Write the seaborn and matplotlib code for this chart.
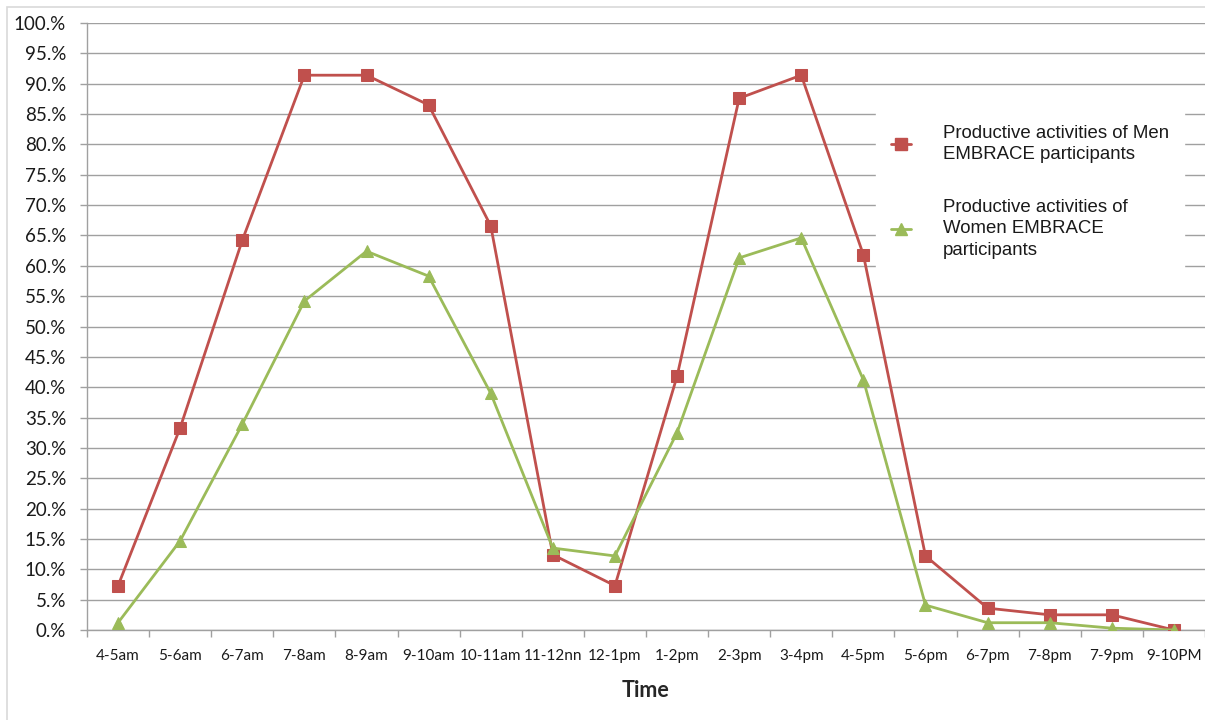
import matplotlib
matplotlib.use("Agg")
import matplotlib.pyplot as plt
from matplotlib.patches import Rectangle
from matplotlib.lines import Line2D
import seaborn as sns
import pandas as pd
import numpy as np

time_slots = ["4-5am", "5-6am", "6-7am", "7-8am", "8-9am", "9-10am", "10-11am",
              "11-12nn", "12-1pm", "1-2pm", "2-3pm", "3-4pm", "4-5pm", "5-6pm",
              "6-7pm", "7-8pm", "7-9pm", "9-10PM"]
men = [7.3, 33.3, 64.2, 91.4, 91.4, 86.5, 66.6, 12.4, 7.3, 41.8, 87.6, 91.4,
       61.8, 12.2, 3.6, 2.5, 2.5, 0.0]
women = [1.2, 14.7, 33.9, 54.2, 62.4, 58.3, 39.0, 13.5, 12.2, 32.5, 61.3, 64.6,
         41.2, 4.1, 1.2, 1.2, 0.3, 0.0]
men_label = "Productive activities of Men\nEMBRACE participants"
women_label = "Productive activities of\nWomen EMBRACE\nparticipants"
y_ticks = list(range(0, 101, 5))
y_tick_labels = ["0.%", "5.%", "10.%", "15.%", "20.%", "25.%", "30.%", "35.%", "40.%",
                 "45.%", "50.%", "55.%", "60.%", "65.%", "70.%", "75.%", "80.%",
                 "85.%", "90.%", "95.%", "100.%"]

RED = "#C0504D"
GREEN = "#9BBB59"
GRID = "#A0A0A0"

df = pd.DataFrame({
    "pos": list(range(len(time_slots))) * 2,
    "value": men + women,
    "series": [men_label] * len(men) + [women_label] * len(women),
})

sns.set_theme(style="white")
plt.rcParams["font.family"] = ["Lato", "DejaVu Sans"]

W, H = 1205, 720
fig = plt.figure(figsize=(W / 100, H / 100), dpi=100)
ax = fig.add_axes([87 / W, 90 / H, (W - 87) / W, (630 - 23) / H])

sns.lineplot(data=df[df.series == men_label], x="pos", y="value", ax=ax,
             color=RED, linewidth=2.0, marker="s", markersize=8,
             markeredgecolor=RED, legend=False, zorder=3)
sns.lineplot(data=df[df.series == women_label], x="pos", y="value", ax=ax,
             color=GREEN, linewidth=2.0, marker="^", markersize=9,
             markeredgecolor=GREEN, legend=False, zorder=3)

ax.set_xlim(-0.5, len(time_slots) - 0.5)
ax.set_ylim(0, 100)
ax.set_yticks(y_ticks)
ax.set_yticklabels(y_tick_labels, fontsize=13.5, color="#1a1a1a")
ax.set_xticks(range(len(time_slots)))
ax.set_xticklabels(time_slots, fontsize=11, color="#1a1a1a")
ax.tick_params(axis="x", length=0, pad=14)
ax.tick_params(axis="y", length=5, color=GRID, width=1, pad=10, direction="out", left=True)
ax.set_xticks(np.arange(-0.5, len(time_slots), 1), minor=True)
ax.tick_params(axis="x", which="minor", length=5, color=GRID, width=1, bottom=True)

ax.yaxis.grid(True, color=GRID, linewidth=1)
ax.set_axisbelow(True)
for side in ("top", "right"):
    ax.spines[side].set_visible(False)
for side in ("left", "bottom"):
    ax.spines[side].set_color(GRID)
    ax.spines[side].set_linewidth(1)

ax.set_xlabel("Time", fontsize=15.5, fontweight="bold", labelpad=12)
ax.set_ylabel("")

handles = [
    Line2D([0], [0], color=RED, linewidth=2, marker="s", markersize=8),
    Line2D([0], [0], color=GREEN, linewidth=2, marker="^", markersize=9),
]
leg = ax.legend(handles, [men_label, women_label], loc="upper left",
                frameon=True, facecolor="white", edgecolor="white", framealpha=1,
                handlelength=1.1, handletextpad=1.7,
                labelspacing=1.9, borderpad=0.8, borderaxespad=0,
                prop={"family": ["Liberation Sans"], "size": 13.4})
for t in leg.get_texts():
    t.set_color("#1a1a1a")
    t.set_linespacing(1.35)
leg.set_bbox_to_anchor(((876 - 87) / (W - 87), (630 - 110) / 607), transform=ax.transAxes)

fig.patches.append(Rectangle((7 / W, -0.05), 1.2, (H - 7) / H + 0.05,
                             transform=fig.transFigure, fill=False,
                             edgecolor="#D9D9D9", linewidth=1.2))

fig.savefig("out.png", dpi=100)
